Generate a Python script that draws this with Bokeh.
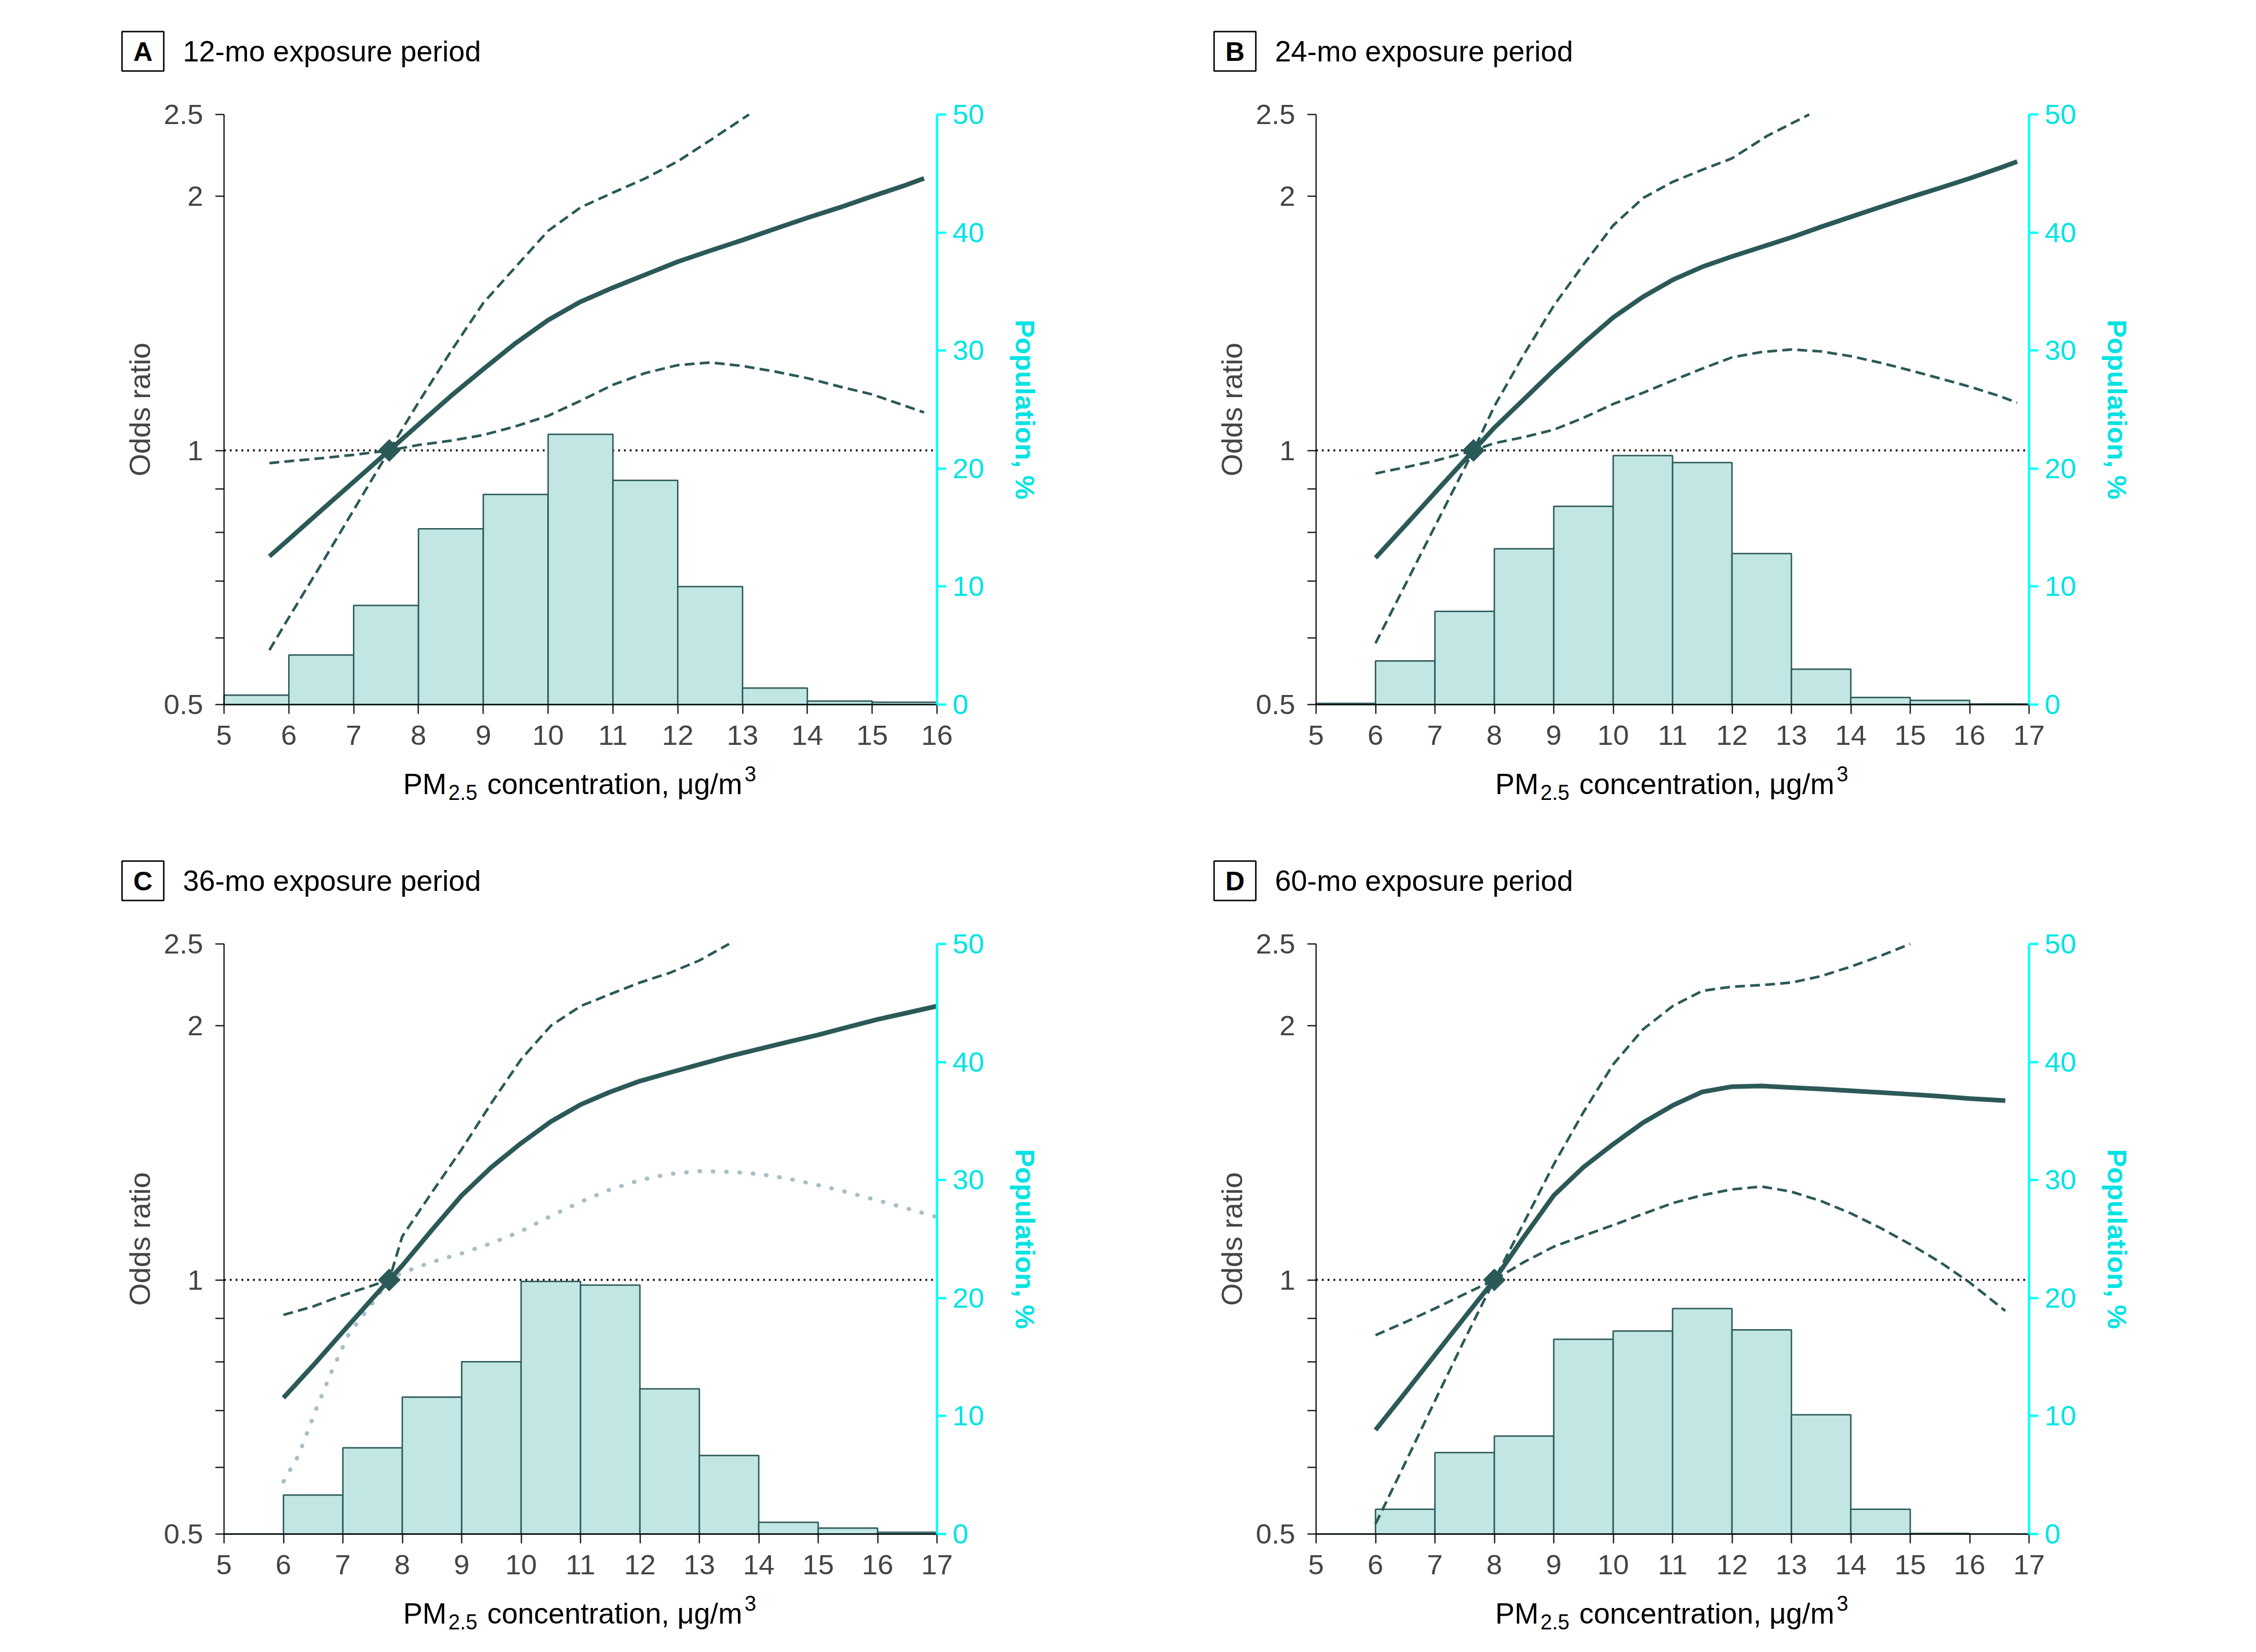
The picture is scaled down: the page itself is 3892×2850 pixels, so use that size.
import math
import numpy as np
from bokeh.plotting import figure
from bokeh.models import Range1d, LinearAxis, FixedTicker, LinearScale
from bokeh.layouts import row, column
from bokeh.embed import file_html
from bokeh.resources import INLINE
from bokeh.core.properties import value

# ---------------- data ----------------
y_ticks = [0.5, 0.6, 0.7, 0.8, 0.9, 1, 2, 2.5]
y_tick_labels = {0.5: "0.5", 0.6: "", 0.7: "", 0.8: "", 0.9: "", 1: "1", 2: "2", 2.5: "2.5"}
pop_ticks = [0, 10, 20, 30, 40, 50]
or_min, or_max = 0.5, 2.5
pop_min, pop_max = 0, 50
x_min = 5

# Panel A: 12-mo
edges_A = [5, 6, 7, 8, 9, 10, 11, 12, 13, 14, 15, 16]
pop_A = [0.8, 4.2, 8.4, 14.9, 17.8, 22.9, 19.0, 10.0, 1.4, 0.3, 0.2]
ref_A = 7.55
or_x_A = [5.7, 6.0, 6.5, 7.0, 7.55, 8.0, 8.5, 9.0, 9.5, 10.0, 10.5, 11.0, 11.5, 12.0, 12.5, 13.0, 13.5, 14.0, 14.5, 15.0, 15.5, 15.8]
or_A = [0.749, 0.785, 0.849, 0.918, 1.0, 1.073, 1.16, 1.248, 1.34, 1.427, 1.50, 1.559, 1.615, 1.673, 1.724, 1.775, 1.83, 1.886, 1.94, 2.0, 2.06, 2.10]
up_x_A = [5.7, 6.0, 6.5, 7.0, 7.55, 8.0, 8.5, 9.0, 9.5, 10.0, 10.5, 11.0, 11.5, 12.0, 12.5, 13.1]
up_A = [0.966, 0.971, 0.979, 0.988, 1.0, 1.14, 1.31, 1.495, 1.65, 1.82, 1.94, 2.02, 2.10, 2.20, 2.33, 2.5]
lo_x_A = [5.7, 6.0, 6.5, 7.0, 7.55, 8.0, 8.5, 9.0, 9.5, 10.0, 10.5, 11.0, 11.5, 12.0, 12.5, 13.0, 13.5, 14.0, 14.5, 15.0, 15.5, 15.8]
lo_A = [0.580, 0.634, 0.733, 0.850, 1.0, 1.015, 1.027, 1.043, 1.068, 1.099, 1.145, 1.196, 1.235, 1.262, 1.271, 1.259, 1.24, 1.218, 1.19, 1.165, 1.13, 1.109]

# Panel B: 24-mo
edges_B = [5, 6, 7, 8, 9, 10, 11, 12, 13, 14, 15, 16, 17]
pop_B = [0.1, 3.7, 7.9, 13.2, 16.8, 21.1, 20.5, 12.8, 3.0, 0.6, 0.35, 0.05]
ref_B = 7.65
or_x_B = [6.0, 6.5, 7.0, 7.65, 8.0, 8.5, 9.0, 9.5, 10.0, 10.5, 11.0, 11.5, 12.0, 12.5, 13.0, 13.5, 14.0, 14.5, 15.0, 15.5, 16.0, 16.5, 16.8]
or_B = [0.746, 0.815, 0.891, 1.0, 1.064, 1.15, 1.244, 1.34, 1.437, 1.52, 1.592, 1.65, 1.697, 1.742, 1.788, 1.84, 1.891, 1.943, 1.995, 2.046, 2.10, 2.16, 2.199]
up_x_B = [6.0, 6.5, 7.0, 7.65, 8.0, 8.5, 9.0, 9.5, 10.0, 10.5, 11.0, 11.5, 12.0, 12.6, 13.3]
up_B = [0.939, 0.955, 0.972, 1.0, 1.128, 1.30, 1.484, 1.66, 1.847, 1.99, 2.08, 2.15, 2.218, 2.36, 2.5]
lo_x_B = [6.0, 6.5, 7.0, 7.65, 8.0, 8.5, 9.0, 9.5, 10.0, 10.5, 11.0, 11.5, 12.0, 12.5, 13.0, 13.5, 14.0, 14.5, 15.0, 15.5, 16.0, 16.5, 16.8]
lo_B = [0.591, 0.693, 0.813, 1.0, 1.02, 1.037, 1.058, 1.093, 1.135, 1.17, 1.21, 1.25, 1.289, 1.308, 1.317, 1.31, 1.293, 1.27, 1.244, 1.217, 1.19, 1.16, 1.139]

# Panel C: 36-mo
edges_C = [5, 6, 7, 8, 9, 10, 11, 12, 13, 14, 15, 16, 17]
pop_C = [0.0, 3.3, 7.3, 11.6, 14.6, 21.4, 21.1, 12.3, 6.65, 1.0, 0.5, 0.15]
ref_C = 7.78
or_x_C = [6.0, 6.5, 7.0, 7.5, 7.78, 8.0, 8.5, 9.0, 9.5, 10.0, 10.5, 11.0, 11.5, 12.0, 12.5, 13.0, 13.5, 14.0, 14.5, 15.0, 15.5, 16.0, 16.5, 17.0]
or_C = [0.725, 0.792, 0.868, 0.951, 1.0, 1.04, 1.146, 1.259, 1.36, 1.452, 1.54, 1.613, 1.67, 1.72, 1.76, 1.80, 1.84, 1.877, 1.914, 1.951, 1.993, 2.035, 2.072, 2.11]
up_x_C = [6.0, 6.5, 7.0, 7.5, 7.78, 8.0, 8.5, 9.0, 9.5, 10.0, 10.5, 11.0, 11.5, 12.0, 12.5, 13.0, 13.5]
up_C = [0.909, 0.93, 0.959, 0.985, 1.0, 1.126, 1.27, 1.428, 1.62, 1.825, 2.0, 2.11, 2.18, 2.25, 2.31, 2.39, 2.5]
lo_x_C = [6.0, 6.26, 6.54, 6.82, 7.1, 7.5, 7.78, 8.0, 8.5, 9.0, 9.5, 10.0, 10.5, 11.0, 11.5, 12.0, 12.5, 13.0, 13.5, 14.0, 14.5, 15.0, 15.5, 16.0, 16.5, 17.0]
lo_C = [0.577, 0.621, 0.70, 0.782, 0.863, 0.939, 1.0, 1.02, 1.05, 1.075, 1.105, 1.142, 1.19, 1.237, 1.28, 1.313, 1.335, 1.345, 1.343, 1.335, 1.318, 1.295, 1.27, 1.242, 1.215, 1.187]

# Panel D: 60-mo
edges_D = [5, 6, 7, 8, 9, 10, 11, 12, 13, 14, 15, 16, 17]
pop_D = [0.0, 2.1, 6.9, 8.3, 16.5, 17.2, 19.1, 17.3, 10.1, 2.1, 0.05, 0.0]
ref_D = 8.0
or_x_D = [6.0, 6.5, 7.0, 7.5, 8.0, 8.5, 9.0, 9.5, 10.0, 10.5, 11.0, 11.5, 12.0, 12.5, 13.0, 13.5, 14.0, 14.5, 15.0, 15.5, 16.0, 16.6]
or_D = [0.664, 0.735, 0.815, 0.903, 1.0, 1.125, 1.259, 1.36, 1.448, 1.535, 1.609, 1.67, 1.694, 1.697, 1.69, 1.683, 1.675, 1.667, 1.659, 1.65, 1.64, 1.631]
up_x_D = [6.0, 6.5, 7.0, 7.5, 8.0, 8.5, 9.0, 9.5, 10.0, 10.5, 11.0, 11.5, 12.0, 12.5, 13.0, 13.5, 14.0, 14.5, 15.0]
up_D = [0.86, 0.891, 0.925, 0.962, 1.0, 1.17, 1.37, 1.58, 1.80, 1.98, 2.11, 2.20, 2.225, 2.235, 2.25, 2.29, 2.35, 2.42, 2.5]
lo_x_D = [6.0, 6.5, 7.0, 7.5, 8.0, 8.5, 9.0, 9.5, 10.0, 10.5, 11.0, 11.5, 12.0, 12.5, 13.0, 13.5, 14.0, 14.5, 15.0, 15.5, 16.0, 16.6]
lo_D = [0.514, 0.607, 0.719, 0.85, 1.0, 1.05, 1.095, 1.128, 1.161, 1.197, 1.233, 1.26, 1.28, 1.29, 1.272, 1.24, 1.199, 1.152, 1.102, 1.05, 0.993, 0.919]

# ---------------- style / layout ----------------
FONT = "Liberation Sans"
LINE = "#2B5957"
FILL = "#C1E6E4"
BAR_LINE = "#2E5B59"
CYAN = "#00FFFF"
CYAN_TXT = "#00E3E3"
GRAY_DOT = "#A9BEC6"

FRAME_W, FRAME_H = 1230, 1018     # plotting area size (px)


def make_panel(letter, title, edges, pop, ref_x, ox, oy, ux, uy, lx, ly, lower_dotted,
               fig_w, fig_h, pl, pt):
    xmax = edges[-1]
    below = fig_h - pt - FRAME_H
    kx = FRAME_W / (xmax - x_min)                 # px per x unit
    L = math.log(or_max / or_min) / FRAME_H       # log units per px
    kp = (pop_max - pop_min) / FRAME_H            # pop units per px
    xr = Range1d(x_min - pl / kx, xmax + (fig_w - pl - FRAME_W) / kx)
    yr = Range1d(or_min * math.exp(-L * below), or_max * math.exp(L * pt))
    pr = Range1d(pop_min - below * kp, pop_max + pt * kp)

    def X(px):
        return xr.start + px / kx

    def Y(py):
        return yr.end * math.exp(-L * py)

    p = figure(width=fig_w, height=fig_h, x_range=xr, y_range=yr, y_axis_type="log",
               output_backend="svg", toolbar_location=None, min_border=0)
    p.outline_line_color = None
    p.xgrid.visible = False
    p.ygrid.visible = False
    p.background_fill_color = "white"
    p.border_fill_color = "white"
    p.extra_y_ranges = {"pop": pr}
    p.extra_y_scales = {"pop": LinearScale()}

    # reference line at OR = 1 (under the bars)
    p.line([x_min, xmax], [1, 1], line_color="black", line_width=3.5, line_dash="3 7")

    # histogram
    p.quad(left=edges[:-1], right=edges[1:], bottom=0, top=pop, y_range_name="pop",
           fill_color=FILL, line_color=BAR_LINE, line_width=2.5)

    # curves
    p.line(ux, uy, line_color=LINE, line_width=4.5, line_dash="17 9")
    if lower_dotted:
        p.line(lx, ly, line_color=GRAY_DOT, line_width=7, line_dash="1 22", line_cap="round")
    else:
        p.line(lx, ly, line_color=LINE, line_width=4.5, line_dash="17 9")
    p.line(ox, oy, line_color=LINE, line_width=8)
    p.scatter([ref_x], [1.0], marker="square", angle=np.pi / 4, size=27,
              fill_color=LINE, line_color=LINE)

    # x axis
    xa = p.xaxis[0]
    xa.fixed_location = or_min
    xa.bounds = (x_min, xmax)
    xa.ticker = FixedTicker(ticks=list(range(x_min, xmax + 1)))
    xa.axis_line_width = 2
    xa.major_tick_line_width = 2
    xa.major_tick_out = 16
    xa.major_tick_in = 0
    xa.minor_tick_line_color = None
    xa.major_label_text_font = FONT
    xa.major_label_text_font_size = "49px"
    xa.major_label_standoff = 20

    # left (odds ratio) axis
    ya = p.yaxis[0]
    ya.fixed_location = x_min
    ya.bounds = (or_min, or_max)
    ya.ticker = FixedTicker(ticks=y_ticks)
    ya.major_label_overrides = y_tick_labels
    ya.axis_line_width = 2
    ya.major_tick_line_width = 2
    ya.major_tick_out = 15
    ya.major_tick_in = 0
    ya.minor_tick_line_color = None
    ya.major_label_text_font = FONT
    ya.major_label_text_font_size = "49px"
    ya.major_label_standoff = 21
    ya.axis_label = "Odds ratio"
    ya.axis_label_text_font = FONT
    ya.axis_label_text_font_size = "50px"
    ya.axis_label_text_font_style = "normal"
    ya.axis_label_standoff = 9

    # right (population) axis
    ra = LinearAxis(y_range_name="pop", ticker=FixedTicker(ticks=pop_ticks),
                    axis_label="Population, %", fixed_location=xmax,
                    bounds=(pop_min, pop_max))
    ra.axis_line_color = CYAN
    ra.axis_line_width = 4
    ra.major_tick_line_color = CYAN
    ra.major_tick_line_width = 4
    ra.major_tick_out = 16
    ra.major_tick_in = 0
    ra.minor_tick_line_color = None
    ra.major_label_text_color = CYAN_TXT
    ra.major_label_text_font = FONT
    ra.major_label_text_font_size = "49px"
    ra.major_label_standoff = 11
    ra.axis_label_text_color = CYAN_TXT
    ra.axis_label_text_font = FONT
    ra.axis_label_text_font_size = "47px"
    ra.axis_label_text_font_style = "bold"
    ra.axis_label_standoff = 41
    p.add_layout(ra, "right")

    # panel letter box and title
    cy = pt - 109
    p.rect(x=[X(pl - 140)], y=[Y(cy)], width=72, height=68, width_units="screen",
           height_units="screen", fill_color="white", line_color="black", line_width=2.5)
    p.text(x=[X(pl - 140)], y=[Y(cy)], text=[letter], text_align="center",
           text_baseline="middle", text_font=value(FONT), text_font_size="46px",
           text_font_style="bold", text_color="black")
    p.text(x=[X(pl - 71)], y=[Y(cy)], text=[title], text_align="left",
           text_baseline="middle", text_font=value(FONT), text_font_size="50px",
           text_color="black")

    # x axis title: PM2.5 concentration, μg/m3
    x0, yb = pl + 309, pt + FRAME_H + 137
    p.text(x=[X(x0)], y=[Y(yb)], text=["PM"], text_baseline="alphabetic",
           text_font=value(FONT), text_font_size="50px", text_color="black")
    p.text(x=[X(x0 + 78)], y=[Y(yb + 14)], text=["2.5"], text_baseline="alphabetic",
           text_font=value(FONT), text_font_size="36px", text_color="black")
    p.text(x=[X(x0 + 145)], y=[Y(yb)], text=["concentration, μg/m"],
           text_baseline="alphabetic", text_font=value(FONT), text_font_size="50px",
           text_color="black")
    p.text(x=[X(x0 + 589)], y=[Y(yb - 18)], text=["3"], text_baseline="alphabetic",
           text_font=value(FONT), text_font_size="36px", text_color="black")
    return p


pA = make_panel("A", "12-mo exposure period", edges_A, pop_A, ref_A, or_x_A, or_A,
                up_x_A, up_A, lo_x_A, lo_A, False, 1892, 1439, 386, 197)
pB = make_panel("B", "24-mo exposure period", edges_B, pop_B, ref_B, or_x_B, or_B,
                up_x_B, up_B, lo_x_B, lo_B, False, 1884, 1439, 378, 197)
pC = make_panel("C", "36-mo exposure period", edges_C, pop_C, ref_C, or_x_C, or_C,
                up_x_C, up_C, lo_x_C, lo_C, True, 1892, 1403, 386, 189)
pD = make_panel("D", "60-mo exposure period", edges_D, pop_D, ref_D, or_x_D, or_D,
                up_x_D, up_D, lo_x_D, lo_D, False, 1884, 1403, 378, 189)

layout = column(row(pA, pB), row(pC, pD))
open("out.html", "w").write(file_html(layout, INLINE))
